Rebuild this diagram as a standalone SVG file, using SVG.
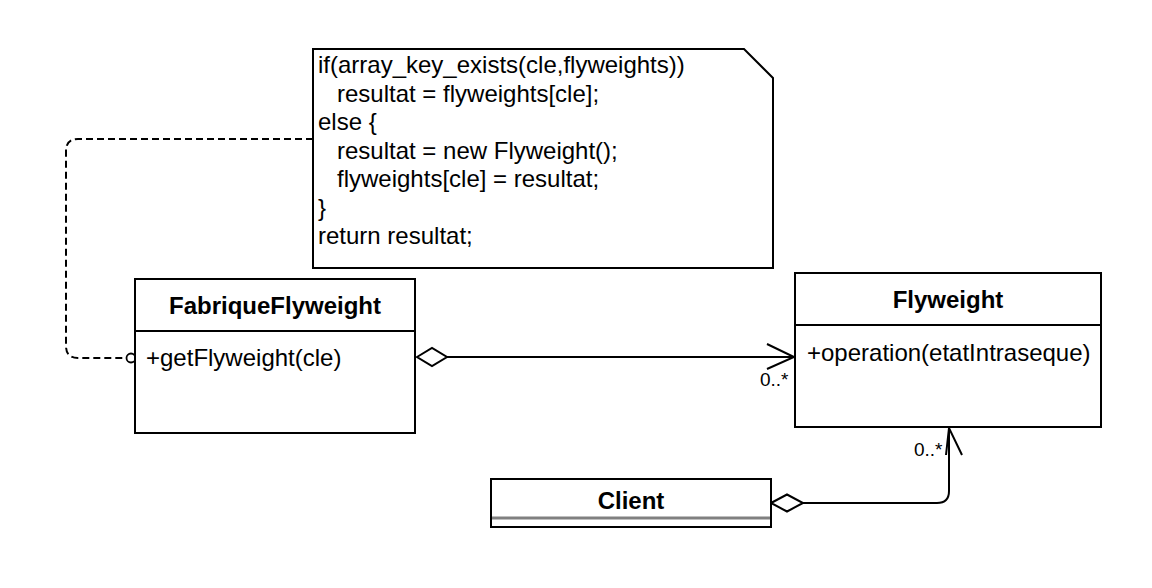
<svg xmlns="http://www.w3.org/2000/svg" width="1152" height="588" viewBox="0 0 1152 588">
<style>
.box{fill:#fff;stroke:#000;stroke-width:2}
.ln{fill:none;stroke:#000;stroke-width:2}
.t{font-family:"Liberation Sans",Arial,sans-serif;font-size:24px;fill:#000}
.b{font-weight:bold}
.m{font-family:"Liberation Sans",Arial,sans-serif;font-size:19px;fill:#000}
</style>
<rect width="1152" height="588" fill="#fff"/>
<g id="connectors">
<path class="ln" d="M313,139 H78 Q66,139 66,151 V346 Q66,358 78,358 H127" stroke-dasharray="7 4"/>
<circle cx="131" cy="358" r="4.5" fill="#fff" stroke="#000" stroke-width="1.8"/>
<path class="ln" d="M447,357 H794"/>
<path class="ln" d="M767,344 L794,357 L767,369"/>
<polygon points="417,357 432,348 447,357 432,366" fill="#fff" stroke="#000" stroke-width="2"/>
<path class="ln" d="M803,503 H937 Q949,503 949,491 V428"/>
<path class="ln" d="M946,455 L949,428 L962,455"/>
<polygon points="771,503 787,494.5 803,503 787,511.5" fill="#fff" stroke="#000" stroke-width="2"/>
<text class="m" x="760" y="386">0..*</text>
<text class="m" x="914" y="456">0..*</text>
</g>
<g id="note">
<path class="box" d="M313,49 H744 L773,78 V268 H313 Z"/>
<text class="t" x="318" y="73">if(array_key_exists(cle,flyweights))</text>
<text class="t" x="337" y="101.5">resultat = flyweights[cle];</text>
<text class="t" x="318" y="130">else {</text>
<text class="t" x="337" y="158.5">resultat = new Flyweight();</text>
<text class="t" x="337" y="187">flyweights[cle] = resultat;</text>
<text class="t" x="318" y="215.5">}</text>
<text class="t" x="318" y="244">return resultat;</text>
</g>
<g id="FabriqueFlyweight">
<rect class="box" x="135" y="279" width="280" height="154"/>
<line class="ln" x1="135" y1="331" x2="415" y2="331"/>
<text class="t b" x="275" y="314" text-anchor="middle">FabriqueFlyweight</text>
<text class="t" x="146" y="366">+getFlyweight(cle)</text>
</g>
<g id="Flyweight">
<rect class="box" x="795" y="273" width="306" height="154"/>
<line class="ln" x1="795" y1="325" x2="1101" y2="325"/>
<text class="t b" x="948" y="308" text-anchor="middle">Flyweight</text>
<text class="t" x="807" y="361">+operation(etatIntraseque)</text>
</g>
<g id="Client">
<rect class="box" x="491" y="479" width="280" height="48"/>
<line x1="492" y1="518" x2="770" y2="518" stroke="#808080" stroke-width="3"/>
<text class="t b" x="631" y="509" text-anchor="middle">Client</text>
</g>
</svg>
